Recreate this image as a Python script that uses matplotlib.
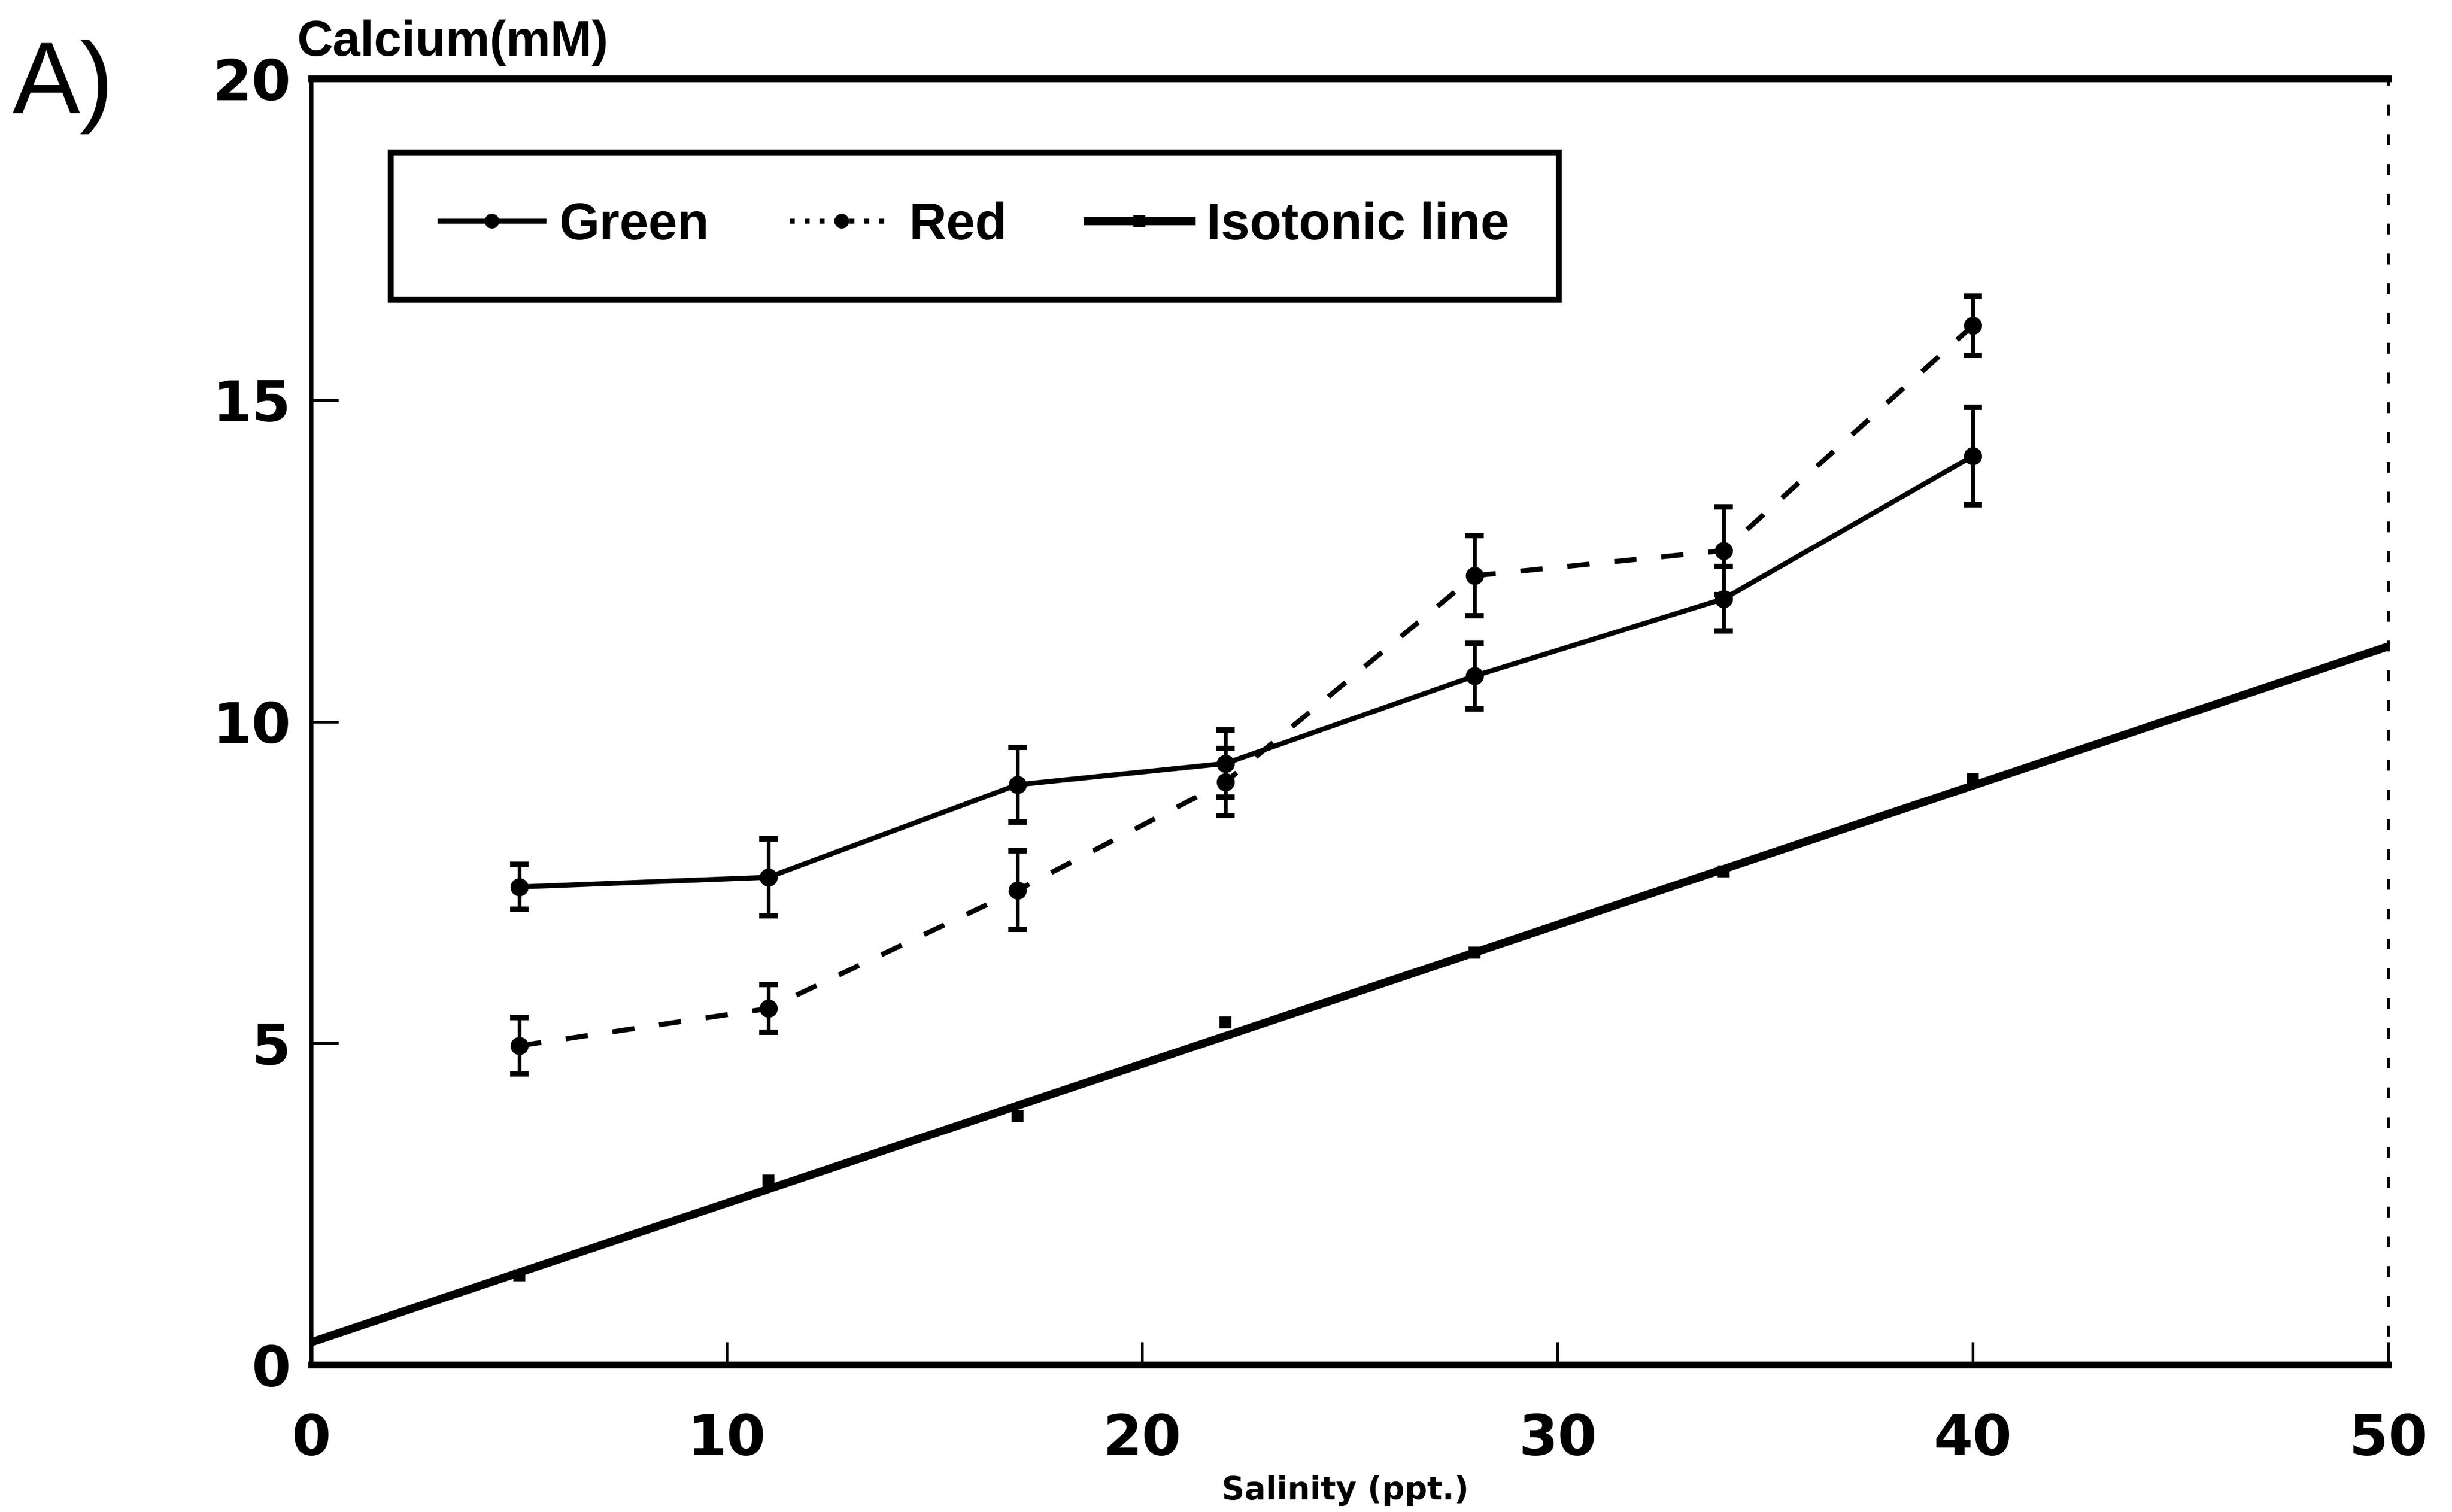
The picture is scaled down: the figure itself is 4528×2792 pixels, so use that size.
import matplotlib.pyplot as plt
from matplotlib.font_manager import FontProperties
from matplotlib.lines import Line2D

# Salinity (ppt) of each sampling group
salinity = [5, 11, 17, 22, 28, 34, 40]

# Mean haemolymph calcium (mM) and error bars
green_ca = [7.43, 7.58, 9.02, 9.35, 10.71, 11.91, 14.13]
green_err = [0.35, 0.60, 0.58, 0.52, 0.51, 0.50, 0.76]
red_ca = [4.96, 5.54, 7.38, 9.06, 12.27, 12.66, 16.16]
red_err = [0.44, 0.37, 0.61, 0.52, 0.62, 0.68, 0.46]

# Calcium of the medium at each salinity, and the isotonic line ends
iso_ca = [1.39, 2.86, 3.87, 5.32, 6.41, 7.67, 9.10]
iso_line_x = [0, 50]
iso_line_y = [0.35, 11.17]

x_ticks = [0, 10, 20, 30, 40, 50]
y_ticks = [0, 5, 10, 15, 20]

tick_font = FontProperties(family="DejaVu Sans", weight="bold", size=25)
text_font = FontProperties(family="Liberation Sans", weight="bold", size=23)

fig = plt.figure(figsize=(4528 / 300, 2792 / 300), dpi=300)
ax = fig.add_axes([0.127, 0.0974, 0.847, 0.8506])

red_dash = (0, (4.5, 5))

# error bars first so the lines sit on top
ax.errorbar(salinity, green_ca, yerr=green_err, fmt="none", ecolor="black",
            elinewidth=1.7, capsize=4, capthick=2.4)
ax.errorbar(salinity, red_ca, yerr=red_err, fmt="none", ecolor="black",
            elinewidth=1.7, capsize=4, capthick=2.4)

ax.plot(salinity, green_ca, color="black", lw=2.2, marker="o", ms=7)
ax.plot(salinity, red_ca, color="black", lw=2.2, ls=red_dash, marker="o", ms=7)
ax.plot(iso_line_x, iso_line_y, color="black", lw=3.6)
ax.plot(salinity, iso_ca, ls="none", color="black", marker="s", ms=4.5)

handles = [
    Line2D([], [], color="black", lw=2.2, marker="o", ms=5.5, label="Green"),
    Line2D([], [], color="black", lw=2.2, ls=(0, (1, 2)), marker="o", ms=5.5, label="Red"),
    Line2D([], [], color="black", lw=3.6, marker="s", ms=4.5, label="Isotonic line"),
]
leg = ax.legend(handles=handles, loc="upper left", bbox_to_anchor=(0.038, 0.943),
                borderaxespad=0, ncol=3, fancybox=False, framealpha=1,
                edgecolor="black", prop=text_font, handlelength=2.0,
                handletextpad=0.3, columnspacing=1.55, borderpad=0.95)
leg.get_frame().set_linewidth(2.6)

ax.set_xlim(0, 50)
ax.set_ylim(0, 20)
ax.set_xticks(x_ticks)
ax.set_yticks(y_ticks)
ax.tick_params(axis="x", direction="in", length=10, width=1.2, pad=21)
ax.tick_params(axis="y", direction="in", length=12, width=1.2, pad=9)
for lab in ax.get_xticklabels() + ax.get_yticklabels():
    lab.set_fontproperties(tick_font)

ax.spines["top"].set_linewidth(3.0)
ax.spines["bottom"].set_linewidth(3.0)
ax.spines["left"].set_linewidth(1.8)
ax.spines["right"].set_linewidth(1.2)
ax.spines["right"].set_linestyle((0, (3, 8)))

fig.text(0.005, 0.925, "A)", family="Liberation Sans", size=45, va="baseline")
fig.text(0.121, 0.963, "Calcium(mM)", family="Liberation Sans", weight="bold",
         size=22, va="baseline")
fig.text(0.5486, 0.0143, "Salinity (ppt.)", family="DejaVu Sans", weight="bold",
         size=14, ha="center", va="center")

fig.savefig("out.png", dpi=300)
